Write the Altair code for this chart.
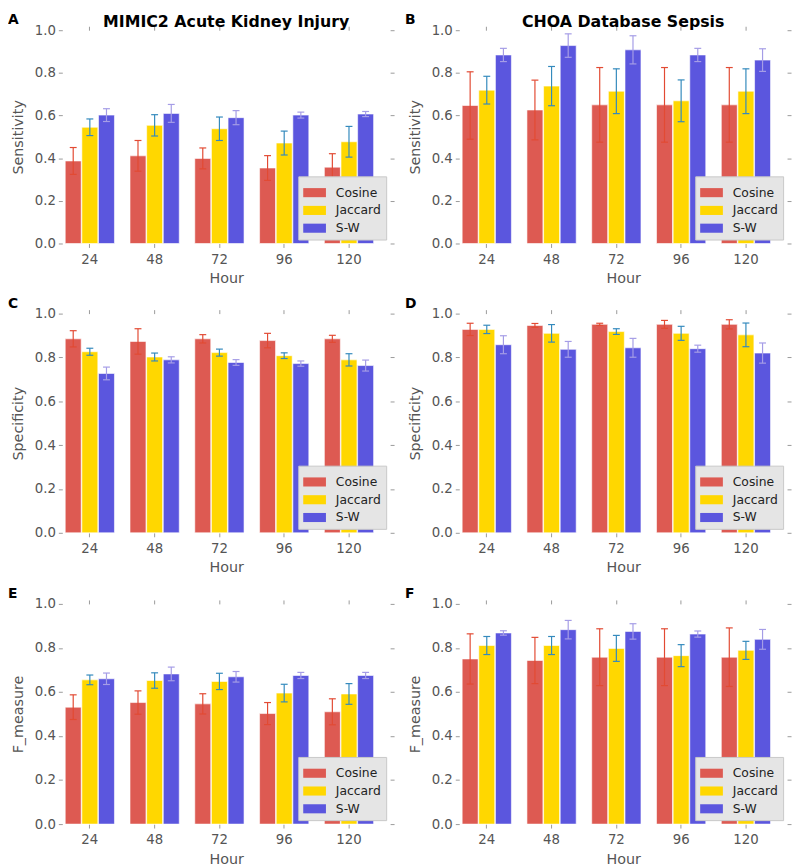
import altair as alt
import pandas as pd

hours = ["24", "48", "72", "96", "120"]
methods = ["Cosine", "Jaccard", "S-W"]

# Panel A: MIMIC2 sensitivity
a_cosine = [0.387, 0.411, 0.399, 0.354, 0.358]
a_cosine_err = [0.063, 0.072, 0.049, 0.058, 0.063]
a_jaccard = [0.545, 0.554, 0.538, 0.471, 0.477]
a_jaccard_err = [0.039, 0.050, 0.055, 0.056, 0.072]
a_sw = [0.602, 0.610, 0.590, 0.602, 0.607]
a_sw_err = [0.030, 0.042, 0.033, 0.014, 0.012]
# Panel B: CHOA sensitivity
b_cosine = [0.647, 0.626, 0.650, 0.650, 0.650]
b_cosine_err = [0.158, 0.140, 0.175, 0.175, 0.175]
b_jaccard = [0.719, 0.738, 0.714, 0.669, 0.714]
b_jaccard_err = [0.065, 0.092, 0.105, 0.098, 0.105]
b_sw = [0.884, 0.928, 0.908, 0.884, 0.860]
b_sw_err = [0.031, 0.055, 0.066, 0.031, 0.053]
# Panel C: MIMIC2 specificity
c_cosine = [0.885, 0.873, 0.885, 0.877, 0.885]
c_cosine_err = [0.037, 0.058, 0.019, 0.033, 0.016]
c_jaccard = [0.826, 0.802, 0.822, 0.808, 0.789]
c_jaccard_err = [0.016, 0.018, 0.016, 0.013, 0.028]
c_sw = [0.727, 0.789, 0.777, 0.772, 0.763]
c_sw_err = [0.029, 0.014, 0.013, 0.012, 0.025]
# Panel D: CHOA specificity
d_cosine = [0.928, 0.946, 0.951, 0.951, 0.951]
d_cosine_err = [0.028, 0.009, 0.005, 0.018, 0.021]
d_jaccard = [0.928, 0.910, 0.918, 0.910, 0.903]
d_jaccard_err = [0.019, 0.040, 0.013, 0.032, 0.054]
d_sw = [0.858, 0.837, 0.844, 0.840, 0.820]
d_sw_err = [0.041, 0.036, 0.043, 0.016, 0.046]
# Panel E: MIMIC2 F-measure
e_cosine = [0.531, 0.552, 0.546, 0.502, 0.510]
e_cosine_err = [0.056, 0.053, 0.046, 0.050, 0.059]
e_jaccard = [0.655, 0.652, 0.648, 0.595, 0.591]
e_jaccard_err = [0.022, 0.035, 0.037, 0.040, 0.047]
e_sw = [0.660, 0.682, 0.669, 0.675, 0.675]
e_sw_err = [0.026, 0.031, 0.024, 0.014, 0.014]
# Panel F: CHOA F-measure
f_cosine = [0.750, 0.743, 0.758, 0.758, 0.758]
f_cosine_err = [0.114, 0.105, 0.129, 0.129, 0.133]
f_jaccard = [0.811, 0.811, 0.798, 0.765, 0.789]
f_jaccard_err = [0.041, 0.041, 0.059, 0.050, 0.041]
f_sw = [0.868, 0.883, 0.875, 0.863, 0.839]
f_sw_err = [0.010, 0.042, 0.035, 0.014, 0.045]

FONT = "DejaVu Sans"
bar_colors = ["#DD5A52", "#FFD700", "#5B56DE"]
err_colors = ["#E24A33", "#348ABD", "#A59DE6"]
W = 332
yticks = [0.0, 0.2, 0.4, 0.6, 0.8, 1.0]


def panel(letter, ytitle, series, H, title=None):
    rows = []
    for m, (vals, errs) in zip(methods, series):
        for h, v, e in zip(hours, vals, errs):
            rows.append({"Hour": h, "Method": m, "value": v, "lo": v - e, "hi": v + e})
    df = pd.DataFrame(rows)
    base = alt.Chart(df)
    xscale = alt.Scale(paddingInner=0.24, paddingOuter=0.15, align=0.15)
    yscale = alt.Scale(domain=[0, 1], nice=False)
    xoff = alt.XOffset("Method:N", sort=methods, scale=alt.Scale(paddingInner=0.04, paddingOuter=0))

    bars = base.mark_bar(stroke="white", strokeWidth=1, strokeOpacity=0.6).encode(
        x=alt.X("Hour:N", sort=hours, scale=xscale, title="Hour",
                axis=alt.Axis(orient="bottom", labelAngle=0, labelPadding=5, titlePadding=6)),
        xOffset=xoff,
        y=alt.Y("value:Q", scale=yscale, title=ytitle,
                axis=alt.Axis(orient="left", values=yticks, format=".1f", labelPadding=3, titlePadding=9)),
        color=alt.Color("Method:N", sort=methods,
                        scale=alt.Scale(domain=methods, range=bar_colors),
                        legend=alt.Legend(orient="bottom-right", title=None, offset=4,
                                          symbolType="M-1,-0.4H1V0.4H-1Z", symbolSize=529,
                                          symbolStrokeWidth=0, symbolOpacity=1,
                                          labelFont=FONT, labelFontSize=12.5, labelColor="#222",
                                          fillColor="#e5e5e5", strokeColor="#c8c8c8",
                                          padding=5, rowPadding=0, labelOffset=10)),
    )
    estroke = alt.Stroke("Method:N", sort=methods,
                         scale=alt.Scale(domain=methods, range=err_colors), legend=None)
    xe = alt.X("Hour:N", sort=hours, scale=xscale, axis=None)
    rule = base.mark_rule(strokeWidth=1.2).encode(
        x=xe, xOffset=xoff,
        y=alt.Y("lo:Q", scale=yscale, axis=None), y2="hi:Q", stroke=estroke)
    cap_lo = base.mark_point(shape="M-1,0H1", filled=False, size=49, strokeWidth=1.2, opacity=1).encode(
        x=xe, xOffset=xoff, y=alt.Y("lo:Q", scale=yscale, axis=None), stroke=estroke)
    cap_hi = base.mark_point(shape="M-1,0H1", filled=False, size=49, strokeWidth=1.2, opacity=1).encode(
        x=xe, xOffset=xoff, y=alt.Y("hi:Q", scale=yscale, axis=None), stroke=estroke)
    frame = base.mark_tick(opacity=0).encode(
        x=alt.X("Hour:N", sort=hours, scale=xscale,
                axis=alt.Axis(orient="top", labels=False, title=None)),
        y=alt.Y("value:Q", scale=yscale,
                axis=alt.Axis(orient="right", labels=False, title=None, values=yticks)),
    )
    layers = [bars, rule, cap_lo, cap_hi, frame]
    lab = alt.Chart(pd.DataFrame({"label": [letter]})).mark_text(
        align="left", baseline="middle", fontWeight="bold", fontSize=14, font=FONT, color="black"
    ).encode(x=alt.value(-55), y=alt.value(-10), text="label:N")
    layers.append(lab)
    if title:
        ttl = alt.Chart(pd.DataFrame({"t": [title]})).mark_text(
            align="center", baseline="middle", fontWeight="bold", fontSize=16, font=FONT, color="black"
        ).encode(x=alt.value(W / 2), y=alt.value(-8), text="t:N")
        layers.append(ttl)

    return alt.layer(*layers).resolve_axis(
        x="independent", y="independent").properties(width=W, height=H)


pA = panel("A", "Sensitivity", [(a_cosine, a_cosine_err), (a_jaccard, a_jaccard_err), (a_sw, a_sw_err)],
           216, "MIMIC2 Acute Kidney Injury")
pB = panel("B", "Sensitivity", [(b_cosine, b_cosine_err), (b_jaccard, b_jaccard_err), (b_sw, b_sw_err)],
           216, "CHOA Database Sepsis")
pC = panel("C", "Specificity", [(c_cosine, c_cosine_err), (c_jaccard, c_jaccard_err), (c_sw, c_sw_err)], 222)
pD = panel("D", "Specificity", [(d_cosine, d_cosine_err), (d_jaccard, d_jaccard_err), (d_sw, d_sw_err)], 222)
pE = panel("E", "F_measure", [(e_cosine, e_cosine_err), (e_jaccard, e_jaccard_err), (e_sw, e_sw_err)], 223)
pF = panel("F", "F_measure", [(f_cosine, f_cosine_err), (f_jaccard, f_jaccard_err), (f_sw, f_sw_err)], 223)


def row(left, right):
    return alt.hconcat(left, right, spacing=10).resolve_scale(
        color="independent", stroke="independent").resolve_legend(color="independent")


top = alt.vconcat(row(pA, pB), row(pC, pD), spacing=12).resolve_scale(
    color="independent", stroke="independent").resolve_legend(color="independent")

chart = alt.vconcat(
    top, row(pE, pF),
    spacing=13,
).resolve_scale(color="independent", stroke="independent").resolve_legend(color="independent").properties(
    padding={"left": 0, "top": 0, "right": 0, "bottom": 0}
).configure_view(stroke=None).configure_axis(
    labelFont=FONT, labelFontSize=13.5, labelColor="#555",
    titleFont=FONT, titleFontSize=14.5, titleColor="#555", titleFontWeight="normal",
    tickColor="#999", tickSize=4, domain=False, grid=False,
)

chart.save("out.html", embed_options={"renderer": "svg", "actions": False})
